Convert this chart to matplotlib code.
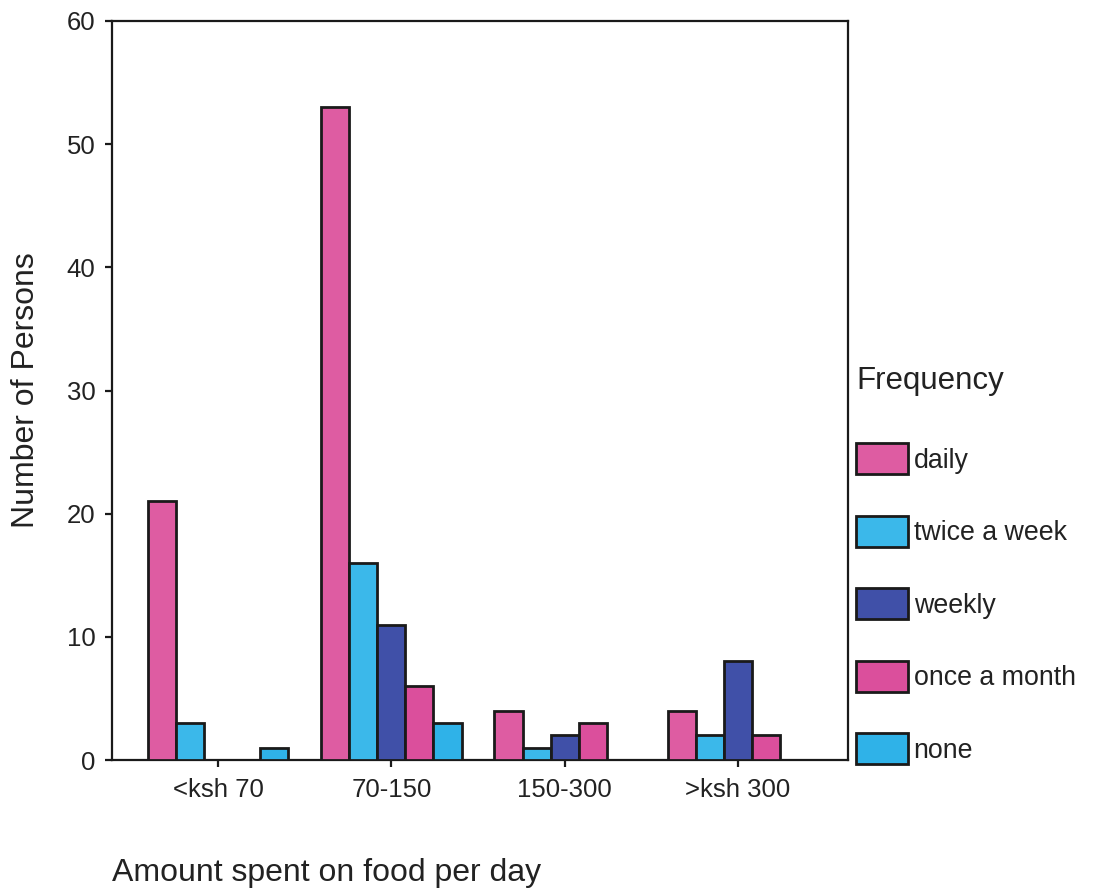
import matplotlib
matplotlib.use("Agg")
import matplotlib.pyplot as plt
import numpy as np

plt.rcParams['font.family'] = ['Liberation Sans', 'DejaVu Sans']

categories = ['<ksh 70', '70-150', '150-300', '>ksh 300']
series_names = ['daily', 'twice a week', 'weekly', 'once a month', 'none']
daily = [21, 53, 4, 4]
twice_a_week = [3, 16, 1, 2]
weekly = [0, 11, 2, 8]
once_a_month = [0, 6, 3, 2]
none = [1, 3, 0, 0]
series_values = [daily, twice_a_week, weekly, once_a_month, none]
colors = ['#DE5CA2', '#3BB8EA', '#4050A8', '#DB4F9C', '#2FB2E8']

fig = plt.figure(figsize=(10.97, 8.90), dpi=100)
ax = fig.add_axes([112/1097, 1-760/890, (848-112)/1097, (760-21)/890])

x = np.arange(len(categories))
w = 0.162
for i, (name, vals, c) in enumerate(zip(series_names, series_values, colors)):
    off = (i - 2) * w
    ax.bar(x + off, vals, width=w, color=c, edgecolor='#1a1a1a', linewidth=2,
           label=name, zorder=3)

ax.set_xlim(-0.613, 3.636)
ax.set_ylim(0, 60)
ax.set_yticks([0, 10, 20, 30, 40, 50, 60])
ax.set_xticks(x)
ax.set_xticklabels(categories)
for s in ax.spines.values():
    s.set_linewidth(1.6)
    s.set_color('#1a1a1a')
ax.tick_params(axis='both', direction='out', length=5, width=1.6, color='#1a1a1a',
               labelsize=18.5, labelcolor='#222222')
ax.tick_params(axis='y', pad=7)
ax.tick_params(axis='x', pad=8)

fig.text(26/1097, 1-390/890, 'Number of Persons', rotation=90, va='center', ha='center',
         fontsize=23, color='#222222')
fig.text(112/1097, 1-873/890, 'Amount spent on food per day', ha='left', va='center',
         fontsize=23, color='#222222')

leg = ax.legend(loc='upper left', bbox_to_anchor=(856/1097, 1-366/890),
                bbox_transform=fig.transFigure, frameon=False, title='Frequency',
                fontsize=19.3, title_fontsize=22.5, handlelength=1.93, handleheight=1.4,
                labelspacing=1.55, handletextpad=0.22, borderaxespad=0, borderpad=0)
leg._legend_box.align = 'left'
leg.get_title().set_color('#222222')
for t in leg.get_texts():
    t.set_color('#222222')
leg._legend_box.sep = 34

fig.savefig('out.png', dpi=100)
